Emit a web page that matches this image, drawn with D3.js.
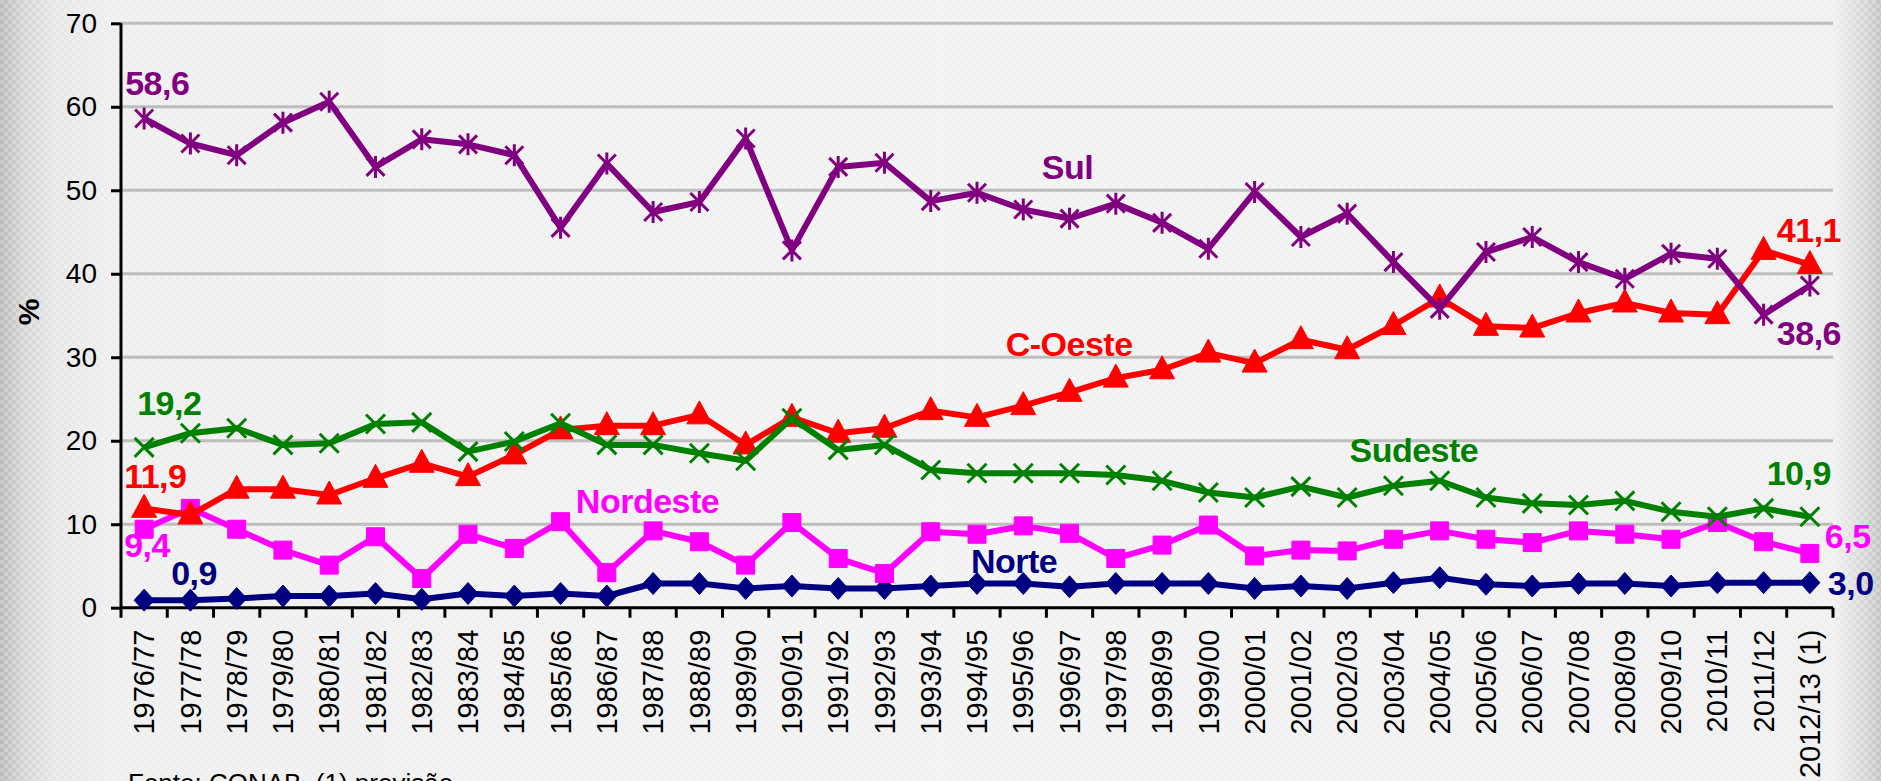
<!DOCTYPE html>
<html>
<head>
<meta charset="utf-8">
<script src="https://cdn.jsdelivr.net/npm/d3@7"></script>
<style>
  html, body { margin: 0; padding: 0; background: #efefef; }
  svg { display: block; font-family: "Liberation Sans", Arial, Helvetica, sans-serif; }
</style>
</head>
<body>
<svg id="chart" width="1881" height="781"></svg>
<script>
// ---------------- data ----------------
const categories = ["1976/77","1977/78","1978/79","1979/80","1980/81","1981/82","1982/83","1983/84","1984/85","1985/86","1986/87","1987/88","1988/89","1989/90","1990/91","1991/92","1992/93","1993/94","1994/95","1995/96","1996/97","1997/98","1998/99","1999/00","2000/01","2001/02","2002/03","2003/04","2004/05","2005/06","2006/07","2007/08","2008/09","2009/10","2010/11","2011/12","2012/13 (1)"];

const sul      = [58.6,55.6,54.2,58.1,60.6,52.8,56.1,55.5,54.2,45.5,53.2,47.4,48.6,56.2,42.8,52.8,53.3,48.7,49.7,47.7,46.6,48.4,46.1,43.0,49.8,44.4,47.2,41.4,35.8,42.6,44.4,41.4,39.4,42.4,41.8,35.1,38.6];
const cOeste   = [11.9,11.1,14.2,14.2,13.5,15.5,17.3,15.7,18.3,21.3,21.8,21.8,23.1,19.5,22.8,20.9,21.5,23.6,22.8,24.2,25.8,27.5,28.5,30.5,29.3,32.1,30.9,33.8,37.1,33.7,33.5,35.3,36.5,35.3,35.1,42.8,41.1];
const sudeste  = [19.2,20.9,21.5,19.5,19.7,22.0,22.2,18.7,19.9,22.1,19.5,19.5,18.5,17.6,22.7,18.9,19.5,16.5,16.1,16.1,16.1,15.9,15.2,13.8,13.2,14.5,13.2,14.6,15.2,13.2,12.5,12.3,12.8,11.5,10.9,11.9,10.9];
const nordeste = [9.4,11.9,9.4,6.9,5.1,8.5,3.5,8.8,7.1,10.3,4.2,9.2,7.9,5.1,10.2,5.9,4.1,9.1,8.8,9.8,8.9,5.9,7.5,9.9,6.2,6.9,6.8,8.2,9.2,8.2,7.8,9.2,8.8,8.2,10.2,7.9,6.5];
const norte    = [0.9,0.9,1.1,1.4,1.4,1.7,1.0,1.7,1.4,1.7,1.4,2.9,2.9,2.3,2.6,2.3,2.3,2.6,2.9,2.9,2.5,2.9,2.9,2.9,2.3,2.6,2.3,3.0,3.6,2.8,2.6,2.9,2.9,2.6,3.0,3.0,3.0];

const seriesNames = ["Norte","Nordeste","C-Oeste","Sudeste","Sul"];
const yTicks = [0,10,20,30,40,50,60,70];
const yAxisTitle = "%";
const sourceNote = "Fonte: CONAB. (1) previsão";

// ---------------- layout ----------------
const W = 1881, H = 781;
const svg = d3.select("#chart");
const pLeft = 121, pRight = 1833, pTop = 23.3, pBottom = 607.7;

const xBand = d3.scaleBand().domain(categories).range([pLeft, pRight]).paddingInner(0).paddingOuter(0);
const bw = xBand.bandwidth();
const xc = c => xBand(c) + bw / 2;
const xAt = f => xBand(categories[0]) + bw / 2 + f * bw; // fractional category index
const y = d3.scaleLinear().domain([0, 70]).range([pBottom, pTop]);

const fmt = v => d3.format(".1f")(v).replace(".", ",");

// ---------------- background ----------------
const defs = svg.append("defs");
const bg = defs.append("linearGradient").attr("id", "bgGrad").attr("x1", "0").attr("x2", "1").attr("y1", "0").attr("y2", "0");
[[0, "#b9b9b9"], [0.012, "#d4d4d4"], [0.03, "#e6e6e6"], [0.06, "#eeeeee"], [0.5, "#f1f1f1"], [0.975, "#efefef"], [0.988, "#dcdcdc"], [1, "#c4c4c4"]]
  .forEach(([o, c]) => bg.append("stop").attr("offset", o).attr("stop-color", c));
const pat = defs.append("pattern").attr("id", "tex").attr("width", 8).attr("height", 8).attr("patternUnits", "userSpaceOnUse");
pat.append("rect").attr("width", 4).attr("height", 4).attr("fill", "#ffffff").attr("opacity", 0.25);
pat.append("rect").attr("x", 4).attr("y", 4).attr("width", 4).attr("height", 4).attr("fill", "#ffffff").attr("opacity", 0.25);

svg.append("rect").attr("width", W).attr("height", H).attr("fill", "url(#bgGrad)");
svg.append("rect").attr("width", W).attr("height", H).attr("fill", "url(#tex)");

// ---------------- grid ----------------
svg.append("g").selectAll("line").data(yTicks.filter(t => t > 0)).join("line")
  .attr("x1", pLeft).attr("x2", pRight)
  .attr("y1", d => y(d)).attr("y2", d => y(d))
  .attr("stroke", "#bdbdbd").attr("stroke-width", 3);

// ---------------- axes ----------------
const yAxis = svg.append("g").attr("transform", `translate(${pLeft},0)`)
  .call(d3.axisLeft(y).tickValues(yTicks).tickSize(10).tickPadding(14).tickFormat(d3.format("d")));
yAxis.select(".domain").attr("stroke", "#000").attr("stroke-width", 3).attr("d", `M0,${pTop}V${pBottom}`);
yAxis.selectAll(".tick line").attr("stroke", "#000").attr("stroke-width", 3);
yAxis.selectAll(".tick text").attr("fill", "#000").style("font-size", "28px");

const xAxis = svg.append("g").attr("transform", `translate(0,${pBottom})`)
  .call(d3.axisBottom(xBand).tickSize(0).tickPadding(0));
xAxis.select(".domain").attr("stroke", "#000").attr("stroke-width", 3).attr("d", `M${pLeft},0H${pRight}`);
xAxis.selectAll(".tick text")
  .attr("fill", "#000").style("font-size", "29px")
  .attr("transform", "rotate(-90)")
  .attr("text-anchor", "end")
  .attr("x", -22).attr("y", 0).attr("dy", "0.35em");
// boundary tick marks between categories
const bounds = categories.map(c => xBand(c)).concat([pRight]);
xAxis.append("g").selectAll("line").data(bounds).join("line")
  .attr("x1", d => d).attr("x2", d => d).attr("y1", 0).attr("y2", 10)
  .attr("stroke", "#000").attr("stroke-width", 3);

// y title
svg.append("text")
  .attr("transform", `translate(39,312) rotate(-90)`)
  .attr("text-anchor", "middle")
  .style("font-size", "30px").style("font-weight", "bold").attr("fill", "#000")
  .text(yAxisTitle);

// source note (cut at the bottom, as in the original)
svg.append("text").attr("x", 128).attr("y", 792)
  .style("font-size", "26px").attr("fill", "#000").text(sourceNote);

// ---------------- series ----------------
const markerPaths = {
  diamond: "M0,-11L10,0L0,11L-10,0Z",
  square: "M-9,-9H9V9H-9Z",
  triangle: "M0,-14L12.5,9L-12.5,9Z",
  cross: "M-9.5,-9.5L9.5,9.5M-9.5,9.5L9.5,-9.5",
  star: "M-9,-9L9,9M-9,9L9,-9M0,-11V11"
};

const series = [
  { name: "Norte",    values: norte,    color: "#000080", marker: "diamond",  filled: true },
  { name: "Nordeste", values: nordeste, color: "#FF00FF", marker: "square",   filled: true },
  { name: "C-Oeste",  values: cOeste,   color: "#FF0000", marker: "triangle", filled: true },
  { name: "Sudeste",  values: sudeste,  color: "#008000", marker: "cross",    filled: false },
  { name: "Sul",      values: sul,      color: "#800080", marker: "star",     filled: false }
];

const line = d3.line().x((d, i) => xc(categories[i])).y(d => y(d));

series.forEach(s => {
  const g = svg.append("g");
  g.append("path").datum(s.values)
    .attr("d", line).attr("fill", "none")
    .attr("stroke", s.color).attr("stroke-width", 6).attr("stroke-linejoin", "round");
  g.selectAll("path.m").data(s.values).join("path").attr("class", "m")
    .attr("transform", (d, i) => `translate(${xc(categories[i])},${y(d)})`)
    .attr("d", markerPaths[s.marker])
    .attr("fill", s.filled ? s.color : "none")
    .attr("stroke", s.color)
    .attr("stroke-width", s.filled ? 1 : 3);
});

// ---------------- labels ----------------
const lab = (txt, x, yy, color, anchor = "start") =>
  svg.append("text").attr("x", x).attr("y", yy).attr("text-anchor", anchor)
    .attr("fill", color).style("font-size", "34px").style("font-weight", "bold")
    .style("letter-spacing", "-0.5px").text(txt);

const first = categories[0], last = categories[categories.length - 1];
// first values
lab(fmt(sul[0]),      xc(first) - 19, y(sul[0]) - 23,      "#800080");
lab(fmt(sudeste[0]),  xc(first) - 7,  y(sudeste[0]) - 32,  "#008000");
lab(fmt(cOeste[0]),   xc(first) - 20, y(cOeste[0]) - 20,   "#FF0000");
lab(fmt(nordeste[0]), xc(first) - 20, y(nordeste[0]) + 28, "#FF00FF");
lab(fmt(norte[0]),    xc(first) + 27, y(norte[0]) - 15,    "#000080");
// last values
const n = categories.length - 1;
lab(fmt(cOeste[n]),   xc(last) - 33, y(cOeste[n]) - 23,  "#FF0000");
lab(fmt(sul[n]),      xc(last) - 33, y(sul[n]) + 60,     "#800080");
lab(fmt(sudeste[n]),  xc(last) + 21, y(sudeste[n]) - 32, "#008000", "end");
lab(fmt(nordeste[n]), xc(last) + 15, y(nordeste[n]) - 5, "#FF00FF");
lab(fmt(norte[n]),    xc(last) + 18, y(norte[n]) + 12,   "#000080");

// series names
lab(seriesNames[4], xAt(19.4),  y(51.3), "#800080");
lab(seriesNames[2], xAt(18.62), y(30.1), "#FF0000");
lab(seriesNames[1], xAt(9.33),  y(11.4), "#FF00FF");
lab(seriesNames[0], xAt(17.87), y(4.1),  "#000080");
lab(seriesNames[3], xAt(26.05), y(17.5), "#008000");
</script>
</body>
</html>
